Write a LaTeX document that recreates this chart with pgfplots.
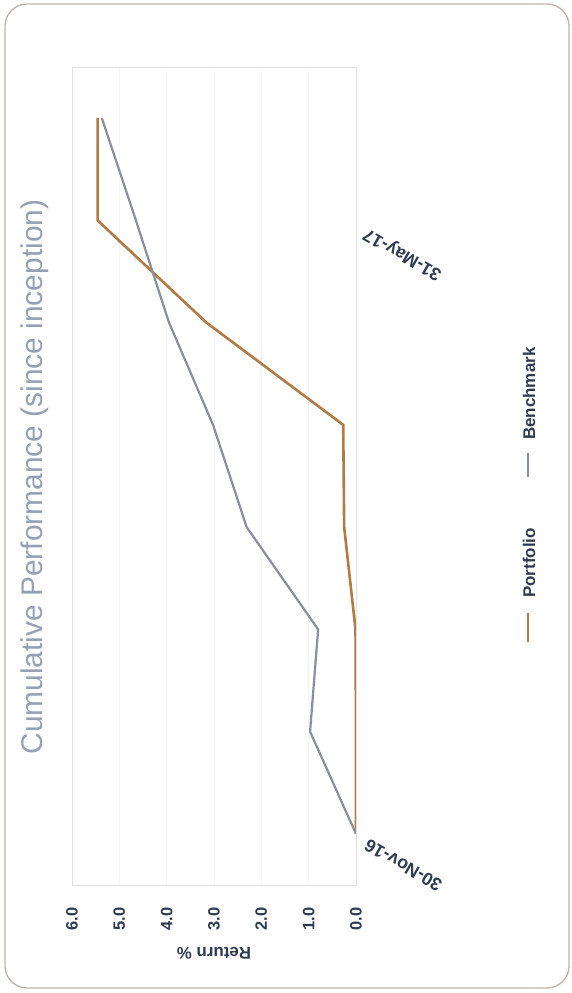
\documentclass[border=0pt]{standalone}
\usepackage{fontspec}
\setmainfont{Liberation Sans}
\usepackage{pgfplots}
\pgfplotsset{compat=1.18}
\definecolor{pcol}{HTML}{B07B45}
\definecolor{bcol}{HTML}{8A8E9E}
\definecolor{navy}{HTML}{2F3B52}
\definecolor{titlec}{HTML}{95A0B5}
\definecolor{framec}{HTML}{BDB3AC}
\begin{document}
\begin{tikzpicture}
\useasboundingbox (0,0) rectangle (572bp,993bp);
\draw[rounded corners=22bp, color=framec, line width=1.3bp] (5bp,5bp) rectangle (569bp,989bp);
\node[rotate=90, anchor=base, text=titlec, font=\fontsize{30}{34}\selectfont] at (42bp,516bp) {Cumulative Performance (since inception)};
\node[rotate=180, text=navy, font=\fontsize{17}{20}\selectfont\bfseries] at (214bp,40bp) {Return \%};
% legend (drawn rotated like the rest of the chart)
\draw[pcol, line width=2.6bp] (528bp,351bp) -- (528bp,380bp);
\node[rotate=90, anchor=base west, inner sep=0pt, text=navy, font=\fontsize{17}{20}\selectfont\bfseries] at (535bp,395bp) {Portfolio};
\draw[bcol, line width=2.2bp] (528bp,516bp) -- (528bp,540bp);
\node[rotate=90, anchor=base west, inner sep=0pt, text=navy, font=\fontsize{17}{20}\selectfont\bfseries] at (535bp,553bp) {Benchmark};
\begin{axis}[
  at={(72bp,108bp)}, anchor=south west,
  scale only axis, width=284bp, height=818bp,
  x dir=reverse, xmin=0, xmax=6,
  ymin=-0.5, ymax=7.5,
  xtick={0,1,2,3,4,5,6},
  ytick={0,6},
  yticklabels={30-Nov-16,31-May-17},
  yticklabel pos=right,
  axis line style={draw=gray!25},
  tick style={draw=none},
  xmajorgrids, grid style={draw=gray!7},
  /pgf/number format/.cd, fixed, fixed zerofill, precision=1, assume math mode=true,
  /pgfplots/.cd,
  xticklabel style={rotate=90, anchor=east, text=navy, font=\fontsize{16.5}{19}\selectfont\bfseries},
  xticklabel shift=19bp,
  yticklabel style={rotate=150, anchor=south east, text=navy, font=\fontsize{18}{21}\selectfont\bfseries},
  yticklabel shift=12bp,
]
\addplot[color=pcol, line width=2.6bp] coordinates {
(0.00,0) (0.00,1) (0.01,2) (0.25,3) (0.27,4) (3.16,5) (5.46,6) (5.46,7)
};
\addplot[color=bcol, line width=2.2bp] coordinates {
(0.00,0) (0.97,1) (0.80,2) (2.31,3) (3.02,4) (3.95,5) (4.65,6) (5.37,7)
};
\end{axis}
\end{tikzpicture}
\end{document}
